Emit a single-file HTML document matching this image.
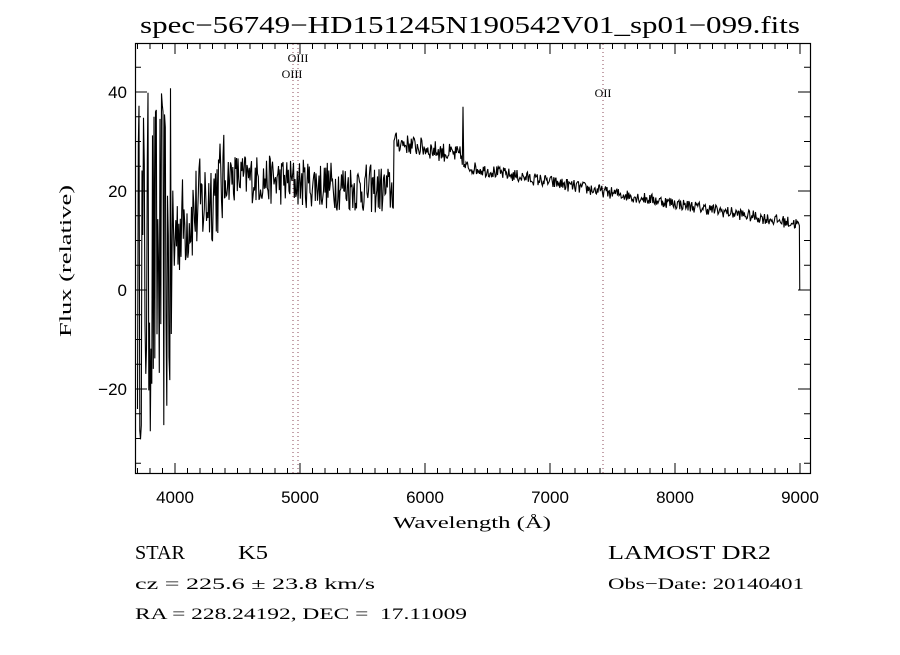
<!DOCTYPE html>
<html><head><meta charset="utf-8"><style>
body{margin:0;background:#fff;width:900px;height:650px;overflow:hidden}
text{fill:#000}
.sf{font-family:"Liberation Serif",serif}
.ss{font-family:"Liberation Sans",sans-serif}
</style></head><body>
<svg id="s" width="900" height="650" xmlns="http://www.w3.org/2000/svg">
<text class="sf" x="140" y="33" font-size="24" textLength="660" lengthAdjust="spacingAndGlyphs">spec−56749−HD151245N190542V01_sp01−099.fits</text>
<rect x="135.5" y="43.5" width="675" height="430" fill="none" stroke="#000" stroke-width="1.2"/>
<g id="ticks" stroke="#000" stroke-width="1"></g>
<g font-size="17" text-anchor="middle">
<text class="ss" x="175" y="503">4000</text><text class="ss" x="300" y="503">5000</text><text class="ss" x="425" y="503">6000</text>
<text class="ss" x="550" y="503">7000</text><text class="ss" x="675" y="503">8000</text><text class="ss" x="800" y="503">9000</text>
</g>
<g font-size="17" text-anchor="end">
<text class="ss" x="127" y="98">40</text><text class="ss" x="127" y="197">20</text><text class="ss" x="127" y="296">0</text><text class="ss" x="127" y="395">−20</text>
</g>
<text class="sf" x="393" y="528" font-size="17" textLength="158" lengthAdjust="spacingAndGlyphs">Wavelength (Å)</text>
<text class="sf" transform="translate(71,337) rotate(-90)" font-size="17" textLength="152" lengthAdjust="spacingAndGlyphs">Flux (relative)</text>
<g stroke="#8b4a5a" stroke-width="1" stroke-dasharray="1,3">
<line x1="293" y1="44" x2="293" y2="473"/><line x1="298" y1="44" x2="298" y2="473"/><line x1="603" y1="44" x2="603" y2="473"/>
</g>
<g font-size="12" text-anchor="middle">
<text class="sf" x="298" y="62">OIII</text><text class="sf" x="292" y="78">OIII</text><text class="sf" x="603" y="97">OII</text>
</g>
<polyline id="sp" fill="none" stroke="#000" stroke-width="1.1"/>
<text class="sf" x="135" y="559" font-size="20" textLength="50" lengthAdjust="spacingAndGlyphs">STAR</text>
<text class="sf" x="238" y="559" font-size="20" textLength="30" lengthAdjust="spacingAndGlyphs">K5</text>
<text class="sf" x="608" y="559" font-size="20" textLength="163" lengthAdjust="spacingAndGlyphs">LAMOST DR2</text>
<text class="sf" x="135" y="589" font-size="16" textLength="240" lengthAdjust="spacingAndGlyphs">cz = 225.6 ± 23.8 km/s</text>
<text class="sf" x="608" y="589" font-size="16" textLength="196" lengthAdjust="spacingAndGlyphs">Obs−Date: 20140401</text>
<text class="sf" x="135" y="619" font-size="16" xml:space="preserve" textLength="332" lengthAdjust="spacingAndGlyphs">RA = 228.24192, DEC =  17.11009</text>
</svg>
<script>
var X=w=>135+(w-3680)*0.125, Y=f=>290-f*4.95;
var t=document.getElementById('ticks'),h='';
for(var w=3700;w<=9000;w+=100){var L=(w%1000==0)?10:5;var x=X(w);
h+='<line x1="'+x+'" y1="473" x2="'+x+'" y2="'+(473-L)+'"/><line x1="'+x+'" y1="44" x2="'+x+'" y2="'+(44+L)+'"/>';}
for(var f=-35;f<=45;f+=5){var L=(f%20==0)?12:6;var y=Y(f);
h+='<line x1="135" y1="'+y+'" x2="'+(135+L)+'" y2="'+y+'"/><line x1="810" y1="'+y+'" x2="'+(810-L)+'" y2="'+y+'"/>';}
t.innerHTML=h;
var s=12345;function r(){s=(s*16807)%2147483647;return s/2147483647*2-1;}
var p=[];
for(var w=3700;w<=8990;w+=6){var m,n;
if(w<4000){m=5;n=36;}
else if(w<4400){m=12+(w-4000)/400*10;n=10;}
else if(w<5750){m=23-(w-4400)/1350*3;n=5;}
else if(w<6300){m=30-(w-5750)/550*3;n=2;}
else if(w<7400){m=25-(w-6300)/1100*5;n=1.3;}
else{m=20-(w-7400)/1550*6.5;n=1.2;}
var f=m+n*r();if(w>=6300&&w<6306)f=37;
f=Math.max(-37,Math.min(49,f));
p.push(X(w).toFixed(1)+','+Y(f).toFixed(1));}
p.push(X(8995)+','+Y(13));p.push(X(8998)+','+Y(0));p.push(X(9080)+','+Y(0));
document.getElementById('sp').setAttribute('points',p.join(' '));
</script>
</body></html>
